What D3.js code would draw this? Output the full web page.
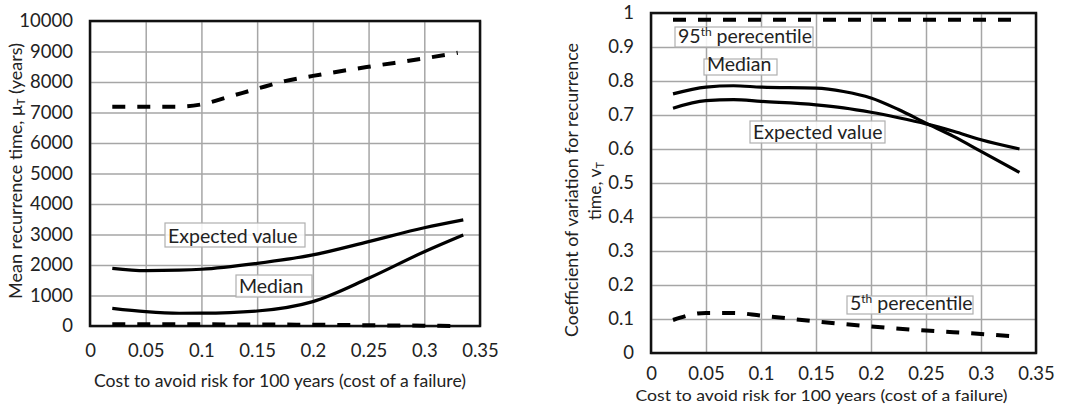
<!DOCTYPE html>
<html>
<head>
<meta charset="utf-8">
<script src="https://cdn.jsdelivr.net/npm/d3@7"></script>
<style>
  body { margin: 0; background: #fff; }
  svg text { font-family: Lato, "Open Sans", sans-serif; fill: #222; }
</style>
</head>
<body>
<div id="chart"></div>
<script>
// ---- data ----
// left panel: mean recurrence time (years)
const meanX      = [0.02, 0.05, 0.08, 0.1, 0.15, 0.2, 0.25, 0.3, 0.335];
const meanExp    = [1890, 1815, 1830, 1860, 2055, 2330, 2765, 3220, 3480];
const meanMed    = [580, 470, 418, 420, 492, 800, 1565, 2435, 2985];
const mean95X    = [0.02, 0.05, 0.08, 0.1, 0.125, 0.15, 0.175, 0.2, 0.25, 0.3, 0.33];
const mean95     = [7190, 7190, 7190, 7265, 7520, 7780, 8030, 8200, 8500, 8775, 8960];
const mean5X     = [0.02, 0.1, 0.15, 0.2, 0.25, 0.3, 0.33];
const mean5      = [60, 55, 50, 40, 25, 10, 0];

// right panel: coefficient of variation
const covX       = [0.02, 0.05, 0.075, 0.1, 0.15, 0.175, 0.2, 0.225, 0.25, 0.275, 0.3, 0.335];
const covMed     = [0.762, 0.782, 0.786, 0.782, 0.779, 0.769, 0.75, 0.716, 0.676, 0.637, 0.593, 0.531];
const covExp     = [0.72, 0.742, 0.745, 0.74, 0.73, 0.721, 0.708, 0.692, 0.674, 0.652, 0.627, 0.60];
const cov95X     = [0.02, 0.33];
const cov95      = [0.98, 0.98];
const cov5X      = [0.02, 0.05, 0.075, 0.1, 0.15, 0.2, 0.25, 0.3, 0.33];
const cov5       = [0.097, 0.118, 0.118, 0.110, 0.093, 0.078, 0.066, 0.056, 0.049];

const xTicks     = [0, 0.05, 0.1, 0.15, 0.2, 0.25, 0.3, 0.35];
const meanYTicks = d3.range(0, 10001, 1000);
const covYTicks  = d3.range(0, 11).map(d => d / 10);

const xTitle = "Cost to avoid risk for 100 years (cost of a failure)";

const svg = d3.select("#chart").append("svg")
    .attr("width", 1065)
    .attr("height", 406);

const zip = (xs, ys) => xs.map((x, i) => [x, ys[i]]);

function drawPanel(cfg){
    let x = d3.scaleLinear().domain([0, 0.35]).range([cfg.left, cfg.right]);
    let y = d3.scaleLinear().domain(cfg.yDomain).range([cfg.bottom, cfg.top]);
    let w = cfg.right - cfg.left, h = cfg.bottom - cfg.top;

    // grid
    svg.append("g")
        .attr("transform", `translate(0,${cfg.bottom})`)
        .call(d3.axisBottom(x).tickValues(xTicks).tickSize(-h).tickFormat(""))
        .call(g => g.select(".domain").remove())
        .selectAll("line").attr("stroke", "#a6a6a6").attr("stroke-width", 1.5);
    svg.append("g")
        .attr("transform", `translate(${cfg.left},0)`)
        .call(d3.axisLeft(y).tickValues(cfg.yTicks).tickSize(-w).tickFormat(""))
        .call(g => g.select(".domain").remove())
        .selectAll("line").attr("stroke", "#a6a6a6").attr("stroke-width", 1.5);

    // tick labels
    svg.append("g")
        .attr("transform", `translate(0,${cfg.bottom})`)
        .call(d3.axisBottom(x).tickValues(xTicks).tickSize(0).tickPadding(cfg.xPad)
            .tickFormat(d => String(+d.toFixed(2))))
        .call(g => g.select(".domain").remove())
        .selectAll("text").attr("font-size", 18.5).attr("font-family", "Lato").attr("fill", "#333");
    svg.append("g")
        .attr("transform", `translate(${cfg.left},0)`)
        .call(d3.axisLeft(y).tickValues(cfg.yTicks).tickSize(0).tickPadding(17)
            .tickFormat(cfg.yFormat))
        .call(g => g.select(".domain").remove())
        .selectAll("text").attr("font-size", 18.5).attr("font-family", "Lato").attr("fill", "#333");

    // frame
    svg.append("rect")
        .attr("x", cfg.left).attr("y", cfg.top)
        .attr("width", w).attr("height", h)
        .attr("fill", "none").attr("stroke", "#111").attr("stroke-width", 2.5);

    let line = d3.line().x(d => x(d[0])).y(d => y(d[1])).curve(d3.curveMonotoneX);

    cfg.series.forEach(s => {
        svg.append("path")
            .datum(s.pts)
            .attr("d", line)
            .attr("fill", "none")
            .attr("stroke", "#000")
            .attr("stroke-width", s.dashed ? 4 : 3.2)
            .attr("stroke-dasharray", s.dashed ? "13,12" : null);
    });

    // label boxes
    cfg.labels.forEach(l => {
        svg.append("rect")
            .attr("x", l.x).attr("y", l.y).attr("width", l.w).attr("height", l.h)
            .attr("fill", "#fff").attr("fill-opacity", 0.85)
            .attr("stroke", "#b0b0b0").attr("stroke-width", 1.2);
        let t = svg.append("text")
            .attr("x", l.x + 3).attr("y", l.y + l.h - 4)
            .attr("font-size", 19.5);
        t.append("tspan").text(l.text);
        if (l.sup) {
            t.append("tspan").attr("font-size", 12).attr("dy", -7).text(l.sup);
            t.append("tspan").attr("dy", 7).text(l.rest);
        }
    });

    // x title
    svg.append("text")
        .attr("x", (cfg.left + cfg.right) / 2 + cfg.xTitleShift)
        .attr("y", cfg.xTitleY)
        .attr("text-anchor", "middle")
        .attr("font-size", cfg.xTitleSize)
        .attr("textLength", 372).attr("lengthAdjust", "spacingAndGlyphs")
        .text(xTitle);
}

drawPanel({
    left: 90, right: 480, top: 21, bottom: 326,
    yDomain: [0, 10000], yTicks: meanYTicks, yFormat: d => String(d),
    xPad: 18, xTitleY: 387, xTitleShift: -5, xTitleSize: 17.5,
    series: [
        {pts: zip(mean95X, mean95), dashed: true},
        {pts: zip(meanX, meanExp)},
        {pts: zip(meanX, meanMed)},
        {pts: zip(mean5X, mean5), dashed: true}
    ],
    labels: [
        {x: 165, y: 223, w: 140, h: 24, text: "Expected value"},
        {x: 236, y: 275, w: 76, h: 22, text: "Median"}
    ]
});

drawPanel({
    left: 651, right: 1036, top: 13, bottom: 353,
    yDomain: [0, 1], yTicks: covYTicks, yFormat: d => String(+d.toFixed(1)),
    xPad: 14, xTitleY: 401, xTitleShift: -22, xTitleSize: 16,
    series: [
        {pts: zip(cov95X, cov95), dashed: true},
        {pts: zip(covX, covMed)},
        {pts: zip(covX, covExp)},
        {pts: zip(cov5X, cov5), dashed: true}
    ],
    labels: [
        {x: 675, y: 27, w: 138, h: 20, text: "95", sup: "th", rest: " perecentile"},
        {x: 704, y: 59, w: 73, h: 16, text: "Median"},
        {x: 750, y: 121, w: 135, h: 22, text: "Expected value"},
        {x: 847, y: 296, w: 126, h: 18, text: "5", sup: "th", rest: " perecentile"}
    ]
});

// y titles
let lt = svg.append("text")
    .attr("transform", "translate(22,171) rotate(-90)")
    .attr("text-anchor", "middle")
    .attr("font-size", 17.5)
    .attr("textLength", 256).attr("lengthAdjust", "spacingAndGlyphs");
lt.append("tspan").text("Mean recurrence time, \u03bc");
lt.append("tspan").attr("font-size", 11).attr("dy", 3).text("T");
lt.append("tspan").attr("dy", -3).text(" (years)");

svg.append("text")
    .attr("transform", "translate(578,190) rotate(-90)")
    .attr("text-anchor", "middle")
    .attr("font-size", 17.5)
    .attr("textLength", 294).attr("lengthAdjust", "spacingAndGlyphs")
    .text("Coefficient of variation for recurrence");
let rt = svg.append("text")
    .attr("transform", "translate(601,191) rotate(-90)")
    .attr("text-anchor", "middle")
    .attr("font-size", 17.5);
rt.append("tspan").text("time, v");
rt.append("tspan").attr("font-size", 11).attr("dy", 3).text("T");
</script>
</body>
</html>
